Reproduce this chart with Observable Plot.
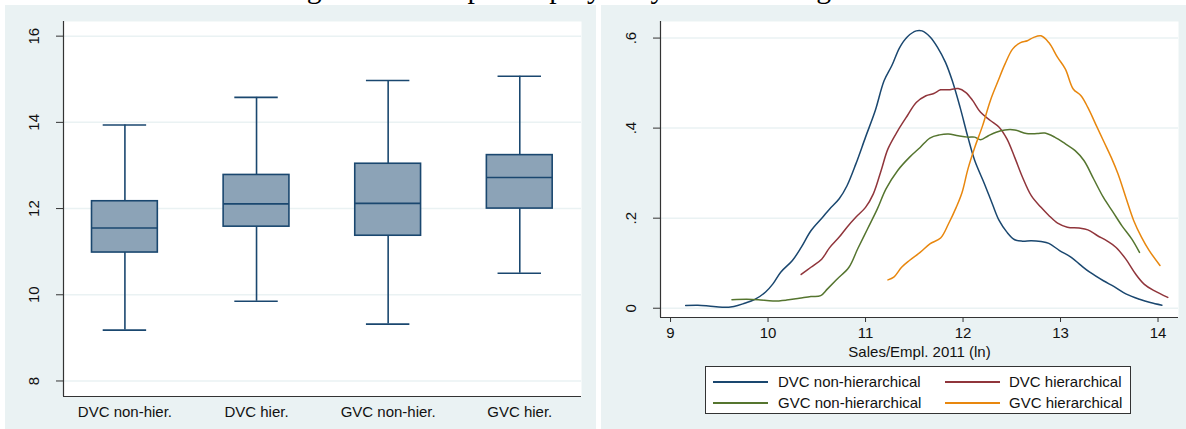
<!DOCTYPE html>
<html>
<head>
<meta charset="utf-8">
<script src="https://cdn.jsdelivr.net/npm/d3@7"></script>
<script src="https://cdn.jsdelivr.net/npm/@observablehq/plot@0.6"></script>
<style>
  html, body { margin: 0; padding: 0; background: #ffffff; }
  body { width: 1186px; height: 429px; position: relative; overflow: hidden; font-family: "Liberation Sans", Arial, sans-serif; }
  #title { position: absolute; left: 282px; top: -26px; font-family: "Liberation Serif", "Times New Roman", serif; font-size: 29.7px; line-height: 29.7px; white-space: nowrap; color: #000; z-index: 0; }
  .panel { position: absolute; top: 5px; height: 424px; background: #EAF2F3; z-index: 1; }
  #left { left: 5px; width: 591px; }
  #right { left: 601px; width: 585px; }
  #legend { position: absolute; left: 104px; top: 361px; width: 424px; height: 46px; background: #fff; border: 1px solid #333; z-index: 2; }
  .item { position: absolute; font-size: 15px; color: #111; white-space: nowrap; line-height: 15px; }
  .swatch { position: absolute; height: 2px; width: 55px; }
</style>
</head>
<body>
<div id="title">Figure 1: Sales per employee by value chain governance</div>
<div class="panel" id="left"></div>
<div class="panel" id="right"><div id="legend"></div></div>
<script>
// ---------- Box plot data (left panel) ----------
const categories = ["DVC non-hier.", "DVC hier.", "GVC non-hier.", "GVC hier."];
const whiskerLow  = [9.18, 9.85, 9.32, 10.50];
const quartile1   = [10.98, 11.58, 11.37, 12.00];
const medians     = [11.55, 12.11, 12.12, 12.72];
const quartile3   = [12.17, 12.78, 13.04, 13.24];
const whiskerHigh = [13.94, 14.58, 14.97, 15.07];
const boxTicks = [8, 10, 12, 14, 16];

// ---------- Density data (right panel) ----------
const seriesNames = ["DVC non-hierarchical", "DVC hierarchical", "GVC non-hierarchical", "GVC hierarchical"];
const seriesColors = ["#1A476F", "#90353B", "#55752F", "#E8870E"];
const densityTicks = [0, 0.2, 0.4, 0.6];
const densityTickLabels = ["0", ".2", ".4", ".6"];
const xTicks = [9, 10, 11, 12, 13, 14];
const xLabel = "Sales/Empl. 2011 (ln)";

const dvcNonHier = [
  [9.155,0.006],[9.28,0.0067],[9.39,0.005],[9.53,0.002],[9.65,0.004],[9.76,0.011],[9.86,0.019],
  [9.975,0.036],[10.05,0.054],[10.13,0.08],[10.25,0.106],[10.34,0.135],[10.44,0.172],[10.56,0.202],
  [10.63,0.22],[10.73,0.243],[10.81,0.272],[10.90,0.32],[11.0,0.38],[11.10,0.439],[11.19,0.505],
  [11.27,0.539],[11.35,0.579],[11.43,0.603],[11.52,0.616],[11.58,0.616],[11.66,0.603],[11.74,0.579],
  [11.82,0.546],[11.89,0.505],[11.97,0.446],[12.05,0.38],[12.12,0.328],[12.22,0.276],[12.30,0.232],
  [12.37,0.195],[12.45,0.169],[12.53,0.152],[12.61,0.149],[12.70,0.150],[12.80,0.148],[12.88,0.144],
  [12.99,0.128],[13.11,0.113],[13.21,0.095],[13.30,0.08],[13.44,0.061],[13.55,0.048],[13.67,0.032],
  [13.81,0.02],[13.92,0.0126],[14.04,0.0067]
];
const dvcHier = [
  [10.34,0.075],[10.44,0.091],[10.55,0.109],[10.63,0.134],[10.73,0.158],[10.81,0.18],[10.90,0.202],
  [11.0,0.224],[11.08,0.254],[11.16,0.306],[11.23,0.354],[11.33,0.394],[11.43,0.428],[11.52,0.457],
  [11.62,0.472],[11.70,0.477],[11.77,0.485],[11.85,0.485],[11.95,0.488],[12.03,0.479],[12.10,0.461],
  [12.18,0.435],[12.28,0.417],[12.37,0.402],[12.45,0.376],[12.53,0.335],[12.61,0.291],[12.70,0.25],
  [12.80,0.224],[12.88,0.206],[12.97,0.189],[13.07,0.18],[13.19,0.178],[13.28,0.174],[13.38,0.161],
  [13.48,0.149],[13.57,0.135],[13.67,0.109],[13.77,0.076],[13.86,0.053],[13.96,0.039],[14.10,0.024]
];
const gvcNonHier = [
  [9.63,0.019],[9.78,0.02],[9.90,0.019],[10.05,0.016],[10.19,0.018],[10.32,0.022],[10.44,0.026],
  [10.54,0.028],[10.61,0.043],[10.71,0.065],[10.83,0.091],[10.92,0.132],[11.02,0.176],[11.12,0.22],
  [11.21,0.265],[11.33,0.306],[11.45,0.335],[11.56,0.357],[11.66,0.378],[11.76,0.385],[11.85,0.387],
  [11.95,0.383],[12.05,0.38],[12.12,0.38],[12.18,0.374],[12.26,0.383],[12.34,0.391],[12.43,0.396],
  [12.53,0.396],[12.65,0.388],[12.76,0.388],[12.84,0.389],[12.94,0.38],[13.05,0.365],[13.15,0.35],
  [13.24,0.328],[13.34,0.287],[13.44,0.246],[13.54,0.213],[13.63,0.183],[13.73,0.154],[13.81,0.124]
];
const gvcHier = [
  [11.23,0.063],[11.29,0.069],[11.37,0.091],[11.45,0.106],[11.56,0.124],[11.66,0.143],[11.77,0.156],
  [11.85,0.187],[11.93,0.224],[11.99,0.257],[12.05,0.309],[12.12,0.357],[12.20,0.405],[12.28,0.461],
  [12.36,0.505],[12.43,0.542],[12.51,0.576],[12.59,0.59],[12.66,0.594],[12.72,0.601],[12.80,0.605],
  [12.88,0.59],[12.97,0.557],[13.05,0.531],[13.13,0.487],[13.21,0.472],[13.28,0.446],[13.36,0.409],
  [13.44,0.372],[13.52,0.335],[13.59,0.298],[13.67,0.246],[13.75,0.195],[13.83,0.158],[13.91,0.128],
  [14.02,0.095]
];
const densitySeries = [dvcNonHier, dvcHier, gvcNonHier, gvcHier];

// ---------- Styles ----------
const navy = "#1A476F";
const boxFill = "#8CA3B7";
const gridColor = "#EAF2F3";
const axisColor = "#333333";
const font = "'Liberation Sans', Arial, sans-serif";

// ---------- Left panel: box plots ----------
const boxes = categories.map((c, i) => ({
  i, c, lo: whiskerLow[i], q1: quartile1[i], med: medians[i], q3: quartile3[i], hi: whiskerHigh[i]
}));
const bxDomain = [-0.4666, 3.469];
const byDomain = [7.64, 16.34];
const halfBox = 0.25, halfCap = 0.165;

const left = Plot.plot({
  width: 591, height: 424,
  marginLeft: 58, marginRight: 15, marginTop: 16, marginBottom: 33,
  style: {background: "transparent", fontFamily: font, fontSize: "15px", color: "#111", overflow: "visible"},
  x: {domain: bxDomain, axis: null},
  y: {domain: byDomain, axis: null},
  marks: [
    Plot.frame({fill: "white", stroke: null}),
    Plot.gridY(boxTicks, {stroke: gridColor, strokeOpacity: 1, strokeWidth: 1.5}),
    Plot.ruleX(boxes, {x: "i", y1: "lo", y2: "q1", stroke: navy, strokeWidth: 1.6}),
    Plot.ruleX(boxes, {x: "i", y1: "q3", y2: "hi", stroke: navy, strokeWidth: 1.6}),
    Plot.ruleY(boxes, {y: "lo", x1: d => d.i - halfCap, x2: d => d.i + halfCap, stroke: navy, strokeWidth: 1.6}),
    Plot.ruleY(boxes, {y: "hi", x1: d => d.i - halfCap, x2: d => d.i + halfCap, stroke: navy, strokeWidth: 1.6}),
    Plot.rect(boxes, {x1: d => d.i - halfBox, x2: d => d.i + halfBox, y1: "q1", y2: "q3", fill: boxFill, stroke: navy, strokeWidth: 1.6}),
    Plot.ruleY(boxes, {y: "med", x1: d => d.i - halfBox, x2: d => d.i + halfBox, stroke: navy, strokeWidth: 1.6}),
    Plot.axisY(boxTicks, {tickSize: 7, tickFormat: () => "", stroke: axisColor, label: null}),
    Plot.text(boxTicks, {y: d => d, frameAnchor: "left", dx: -29, rotate: -90, text: d => String(d),
      textAnchor: "middle", lineAnchor: "middle", fill: "#111", fontSize: 15}),
    Plot.axisX(boxes.map(d => d.i), {tickSize: 0, tickPadding: 10, tickFormat: i => categories[i], label: null, fill: "#111", fontSize: 15}),
    Plot.ruleX([bxDomain[0]], {stroke: axisColor, strokeWidth: 1.2}),
    Plot.ruleY([byDomain[0]], {stroke: axisColor, strokeWidth: 1.2})
  ]
});
document.getElementById("left").appendChild(left);

// ---------- Right panel: densities ----------
const dxDomain = [8.897, 14.21];
const dyDomain = [-0.0206, 0.6368];
const lineMarks = densitySeries.map((s, k) =>
  Plot.line(s, {x: d => d[0], y: d => d[1], stroke: seriesColors[k], strokeWidth: 1.5, curve: "catmull-rom"})
);

const right = Plot.plot({
  width: 585, height: 424,
  marginLeft: 59, marginRight: 8, marginTop: 16, marginBottom: 112,
  style: {background: "transparent", fontFamily: font, fontSize: "15px", color: "#111", overflow: "visible"},
  x: {domain: dxDomain, axis: null},
  y: {domain: dyDomain, axis: null},
  marks: [
    Plot.frame({fill: "white", stroke: null}),
    Plot.gridY(densityTicks, {stroke: gridColor, strokeOpacity: 1, strokeWidth: 1.5}),
    ...lineMarks,
    Plot.axisY(densityTicks, {tickSize: 7, tickFormat: () => "", stroke: axisColor, label: null}),
    Plot.text(densityTicks, {y: d => d, frameAnchor: "left", dx: -29, rotate: -90,
      text: (d, i) => densityTickLabels[i], textAnchor: "middle", lineAnchor: "middle", fill: "#111", fontSize: 15}),
    Plot.axisX(xTicks, {tickSize: 5, tickPadding: 5, tickFormat: d => String(d), stroke: axisColor, label: null, fill: "#111", fontSize: 15}),
    Plot.ruleX([dxDomain[0]], {stroke: axisColor, strokeWidth: 1.2}),
    Plot.ruleY([dyDomain[0]], {stroke: axisColor, strokeWidth: 1.2}),
    Plot.text([xLabel], {frameAnchor: "bottom", dy: 35, text: d => d, lineAnchor: "middle", fill: "#111", fontSize: 15})
  ]
});
const rightDiv = document.getElementById("right");
rightDiv.insertBefore(right, rightDiv.firstChild);
right.style.position = "absolute"; right.style.left = "0"; right.style.top = "0";

// ---------- Legend ----------
const legend = document.getElementById("legend");
const cols = [{line: 7, text: 72}, {line: 239, text: 303}];
const rows = [15, 36];
seriesNames.forEach((name, k) => {
  const c = cols[k % 2], r = rows[Math.floor(k / 2)];
  const sw = document.createElement("div");
  sw.className = "swatch";
  sw.style.left = c.line + "px"; sw.style.top = (r - 1) + "px"; sw.style.background = seriesColors[k];
  legend.appendChild(sw);
  const t = document.createElement("div");
  t.className = "item";
  t.style.left = c.text + "px"; t.style.top = (r - 8) + "px";
  t.textContent = name;
  legend.appendChild(t);
});
</script>
</body>
</html>
